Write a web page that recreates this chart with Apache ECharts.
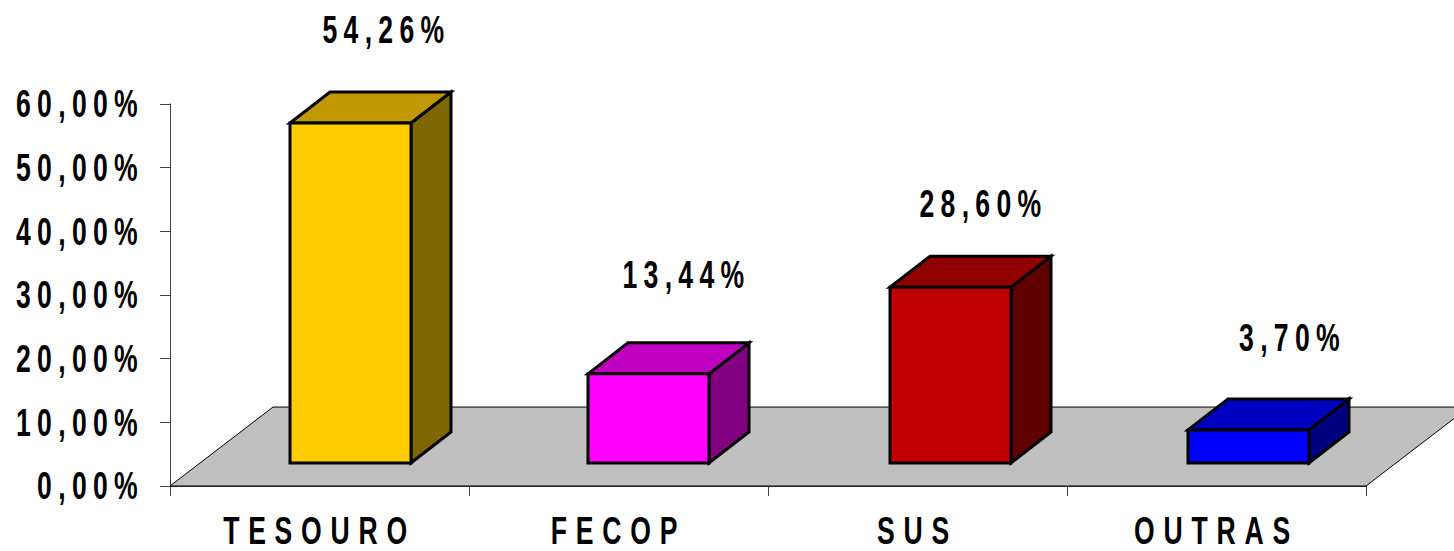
<!DOCTYPE html>
<html>
<head>
<meta charset="utf-8">
<title>Fontes</title>
<style>
html, body { margin: 0; padding: 0; background: #fff; }
#main { width: 1454px; height: 551px; }
/* no narrow bold installed, so squeeze Liberation Sans and open up the tracking */
#main text {
    letter-spacing: 9px;
    scale: 0.7 1;
    transform-box: fill-box;
    transform-origin: center;
}
#main text[text-anchor="end"] { transform-origin: right center; }
</style>
<script src="https://cdn.jsdelivr.net/npm/echarts@6/dist/echarts.min.js"></script>
</head>
<body>
<div id="main"></div>
<script>
const categories = ['TESOURO', 'FECOP', 'SUS', 'OUTRAS'];
// heights as drawn against the axis (the printed labels don't quite line up with them)
const barValues = [53.4, 14, 27.6, 5.2];
const barLabels = ['54,26%', '13,44%', '28,60%', '3,70%'];
const yTicks = [0, 10, 20, 30, 40, 50, 60];
const floorDepth = 12.4;

const frontColors = ['#FFCC00', '#FF00FF', '#C00000', '#0000FF'];
const topColors = ['#C09900', '#C000C0', '#900000', '#0000C0'];
const sideColors = ['#806600', '#800080', '#600000', '#000080'];

const FONT = '"Liberation Sans", Arial, sans-serif';
const FONT_SIZE = 38;
const barNudge = [1, 0, 3, 2];
const labelShift = [[36, -93], [38, -99], [33, -84], [44, -92]];

function poly(points, fill, lineWidth) {
    return {
        type: 'polygon',
        shape: { points },
        style: { fill, stroke: '#000', lineWidth, lineJoin: 'miter' }
    };
}

function renderFloor(params, api) {
    const band = api.size([1, 0])[0];
    const first = api.coord([0, 0]);
    const last = api.coord([categories.length - 1, 0]);
    const back = api.coord([0, floorDepth])[1];
    const x0 = first[0] - band / 2;
    const x1 = last[0] + band / 2;
    const dx = 103;
    return poly([[x0, first[1]], [x0 + dx, back], [x1 + dx, back], [x1, first[1]]], '#C0C0C0', 1);
}

function renderBar(params, api) {
    const i = api.value(0);
    const top = api.coord([i, api.value(1)]);
    const base = api.coord([i, 0]);
    const dz = 23, dx = 40, dy = 31, w = 121;
    const l = top[0] - w / 2 + 30 + barNudge[i];
    const r = l + w;
    const t = top[1] - dz;
    const b = base[1] - dz;
    return {
        type: 'group',
        children: [
            poly([[r, t], [r + dx, t - dy], [r + dx, b - dy], [r, b]], sideColors[i], 3),
            poly([[l, t], [l + dx, t - dy], [r + dx, t - dy], [r, t]], topColors[i], 3),
            poly([[l, t], [r, t], [r, b], [l, b]], frontColors[i], 3),
            {
                type: 'text',
                style: {
                    x: (l + r) / 2 + labelShift[i][0],
                    y: t + labelShift[i][1],
                    text: barLabels[i],
                    fill: '#000',
                    font: 'bold ' + FONT_SIZE + 'px ' + FONT,
                    align: 'center',
                    verticalAlign: 'middle'
                }
            }
        ]
    };
}

const chart = echarts.init(document.getElementById('main'), null, { renderer: 'svg' });
chart.setOption({
    animation: false,
    backgroundColor: '#fff',
    grid: { left: 170, right: 88, top: 104, bottom: 65 },
    xAxis: {
        type: 'category',
        data: categories,
        axisLine: { lineStyle: { color: '#404040', width: 1 } },
        axisTick: { show: true, length: 10, lineStyle: { color: '#404040' } },
        axisLabel: { margin: 26, color: '#000', fontFamily: FONT, fontWeight: 'bold', fontSize: FONT_SIZE }
    },
    yAxis: {
        type: 'value',
        min: yTicks[0],
        max: yTicks[yTicks.length - 1],
        interval: 10,
        splitLine: { show: false },
        axisLine: { show: true, lineStyle: { color: '#404040', width: 1 } },
        axisTick: { show: true, length: 10, lineStyle: { color: '#404040' } },
        axisLabel: {
            margin: 26,
            color: '#000',
            fontFamily: FONT,
            fontWeight: 'bold',
            fontSize: FONT_SIZE,
            formatter: v => v.toFixed(2).replace('.', ',') + '%'
        }
    },
    series: [
        {
            type: 'custom',
            z: 1,
            silent: true,
            renderItem: renderFloor,
            data: [[0, 0]],
            encode: { x: 0, y: 1 }
        },
        {
            type: 'custom',
            z: 3,
            renderItem: renderBar,
            data: barValues.map((v, i) => [i, v]),
            encode: { x: 0, y: 1 }
        }
    ]
});

// axis labels come positioned with a transform, which the css scale would also squeeze
document.querySelectorAll('#main text[transform]').forEach(t => {
    const m = t.transform.baseVal.consolidate().matrix;
    t.setAttribute('x', (parseFloat(t.getAttribute('x')) || 0) + m.e);
    t.setAttribute('y', (parseFloat(t.getAttribute('y')) || 0) + m.f);
    t.removeAttribute('transform');
    // category names are tracked wider than the numbers
    if (t.getAttribute('text-anchor') === 'middle') t.style.letterSpacing = '12.5px';
});
</script>
</body>
</html>
